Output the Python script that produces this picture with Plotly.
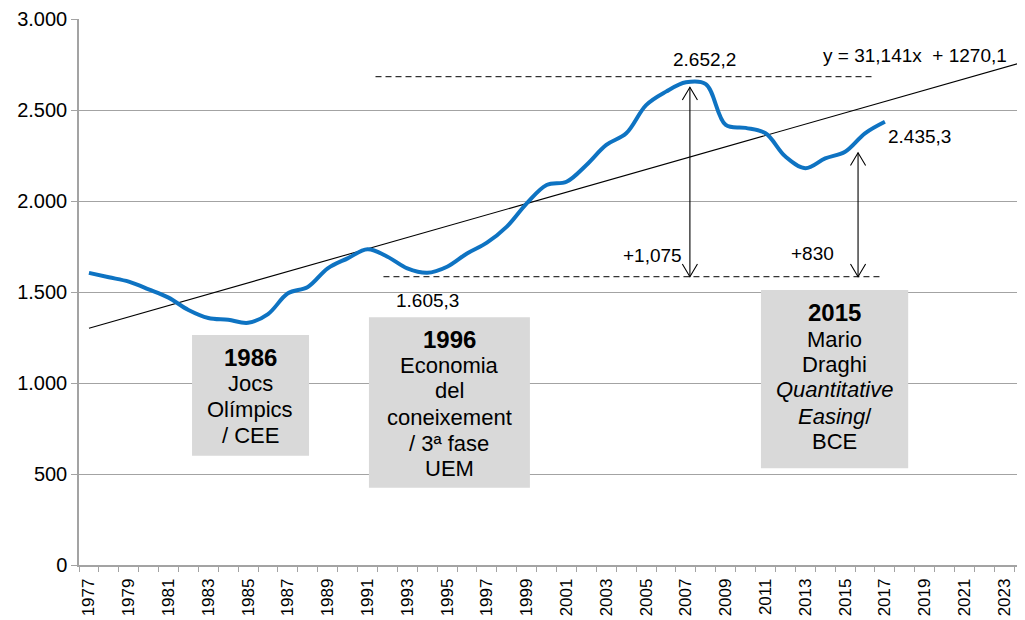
import plotly.graph_objects as go

# ---------------- data ----------------
years = list(range(1977, 2018))
values = [1605, 1581, 1557, 1515, 1469, 1401, 1357, 1347, 1331, 1379,
          1493, 1528, 1630, 1685, 1735, 1694, 1630, 1605.3, 1639, 1712,
          1771, 1859, 1987, 2088, 2106, 2198, 2308, 2372, 2527, 2601,
          2652.2, 2642, 2418, 2402, 2372, 2244, 2180, 2234, 2271, 2372,
          2435.3]

trend_slope = 31.141
trend_intercept = 1270.1
trend_years = list(range(1977, 2025))

x_tick_years = list(range(1977, 2024, 2))
y_tick_vals = [0, 500, 1000, 1500, 2000, 2500, 3000]
y_tick_text = ["0", "500", "1.000", "1.500", "2.000", "2.500", "3.000"]

FONT = "Liberation Sans, Arial, sans-serif"
BLUE = "#0E73C2"
GRID = "#A3A3A3"
BOX = "#D9D9D9"

trend_vals = [trend_slope * (y - 1976) + trend_intercept for y in trend_years]

fig = go.Figure()
fig.add_trace(go.Scatter(x=trend_years, y=trend_vals, mode="lines",
                         line=dict(color="black", width=1.1), hoverinfo="skip"))
fig.add_trace(go.Scatter(x=years, y=values, mode="lines",
                         line=dict(color=BLUE, width=4, shape="spline", smoothing=1)))

shapes = []
annotations = []

# dashed reference lines
shapes.append(dict(type="line", xref="x", yref="y", x0=1991.4, x1=2016.4, y0=2683, y1=2683,
                   line=dict(color="black", width=1, dash="6px,4px")))
shapes.append(dict(type="line", xref="x", yref="y", x0=1991.8, x1=2016.75, y0=1584, y1=1584,
                   line=dict(color="black", width=1, dash="6px,4px")))

def double_arrow(x, y0, y1, hw=0.38, hh=70):
    shapes.append(dict(type="line", xref="x", yref="y", x0=x, x1=x, y0=y0, y1=y1,
                       line=dict(color="black", width=1.1)))
    shapes.append(dict(type="path", xref="x", yref="y",
                       path=f"M {x-hw},{y1-hh} L {x},{y1} L {x+hw},{y1-hh}",
                       line=dict(color="black", width=1.1)))
    shapes.append(dict(type="path", xref="x", yref="y",
                       path=f"M {x-hw},{y0+hh} L {x},{y0} L {x+hw},{y0+hh}",
                       line=dict(color="black", width=1.1)))

double_arrow(2007.2, 1584, 2625)
double_arrow(2015.65, 1584, 2265)

# grey event boxes
boxes = [
    (1982.18, 1988.06, 600, 1264, 1985.1,
     [("<b>1986</b>", 24, 1141), ("Jocs", 22, 998), ("Olímpics", 22, 855), ("/ CEE", 22, 714)]),
    (1991.07, 1999.16, 425, 1361, 1995.1,
     [("<b>1996</b>", 24, 1240), ("Economia", 22, 1097), ("del", 22, 958),
      ("coneixement", 22, 811), ("/ 3ª fase", 22, 669), ("UEM", 22, 531)]),
    (2010.77, 2018.17, 531, 1511, 2014.47,
     [("<b>2015</b>", 24, 1387), ("Mario", 22, 1240), ("Draghi", 22, 1099),
      ("<i>Quantitative</i>", 22, 962), ("<i>Easing</i>/", 22, 815), ("BCE", 22, 678)]),
]
for x0, x1, y0, y1, xc, lines in boxes:
    shapes.append(dict(type="rect", xref="x", yref="y", x0=x0, x1=x1, y0=y0, y1=y1,
                       fillcolor=BOX, line=dict(width=0), layer="above"))
    for txt, sz, yv in lines:
        annotations.append(dict(x=xc, y=yv, xref="x", yref="y", text=txt, showarrow=False,
                                font=dict(family=FONT, size=sz, color="black"),
                                xanchor="center", yanchor="middle"))

# value labels
def label(x, y, txt, xanchor="center", size=19):
    annotations.append(dict(x=x, y=y, xref="x", yref="y", text=txt, showarrow=False,
                            font=dict(family=FONT, size=size, color="black"),
                            xanchor=xanchor, yanchor="middle"))

label(2007.95, 2780, "2.652,2")
label(2018.5, 2797, "y = 31,141x  + 1270,1")
label(2017.05, 2357, "2.435,3", xanchor="left")
label(1994.0, 1456, "1.605,3")
label(2005.3, 1698, "+1,075")
label(2013.35, 1714, "+830")

fig.update_layout(
    width=1017, height=612,
    margin=dict(l=71, r=0, t=11, b=55),
    paper_bgcolor="white", plot_bgcolor="white",
    showlegend=False,
    shapes=shapes, annotations=annotations,
    font=dict(family=FONT, size=19, color="black"),
    xaxis=dict(
        range=[1976.5, 2024.04],
        tickmode="array", tickvals=x_tick_years, ticktext=[str(y) for y in x_tick_years],
        tickangle=-90, tickfont=dict(family=FONT, size=17, color="black"),
        ticks="outside", ticklen=5, tickcolor="rgba(0,0,0,0)",
        minor=dict(ticks="outside", ticklen=5, tickcolor=GRID, tick0=1976.5, dtick=1, showgrid=False),
        showgrid=False, showline=True, linecolor=GRID, linewidth=1.5,
        zeroline=False, fixedrange=True, automargin=False,
    ),
    yaxis=dict(
        range=[0, 3000],
        tickmode="array", tickvals=y_tick_vals, ticktext=y_tick_text,
        tickfont=dict(family=FONT, size=20, color="black"),
        ticks="outside", ticklen=6, tickcolor=GRID,
        showgrid=True, gridcolor=GRID, gridwidth=1.3,
        showline=True, linecolor=GRID, linewidth=1.5,
        zeroline=False, fixedrange=True, automargin=False,
    ),
)

fig.write_html("out.html")
